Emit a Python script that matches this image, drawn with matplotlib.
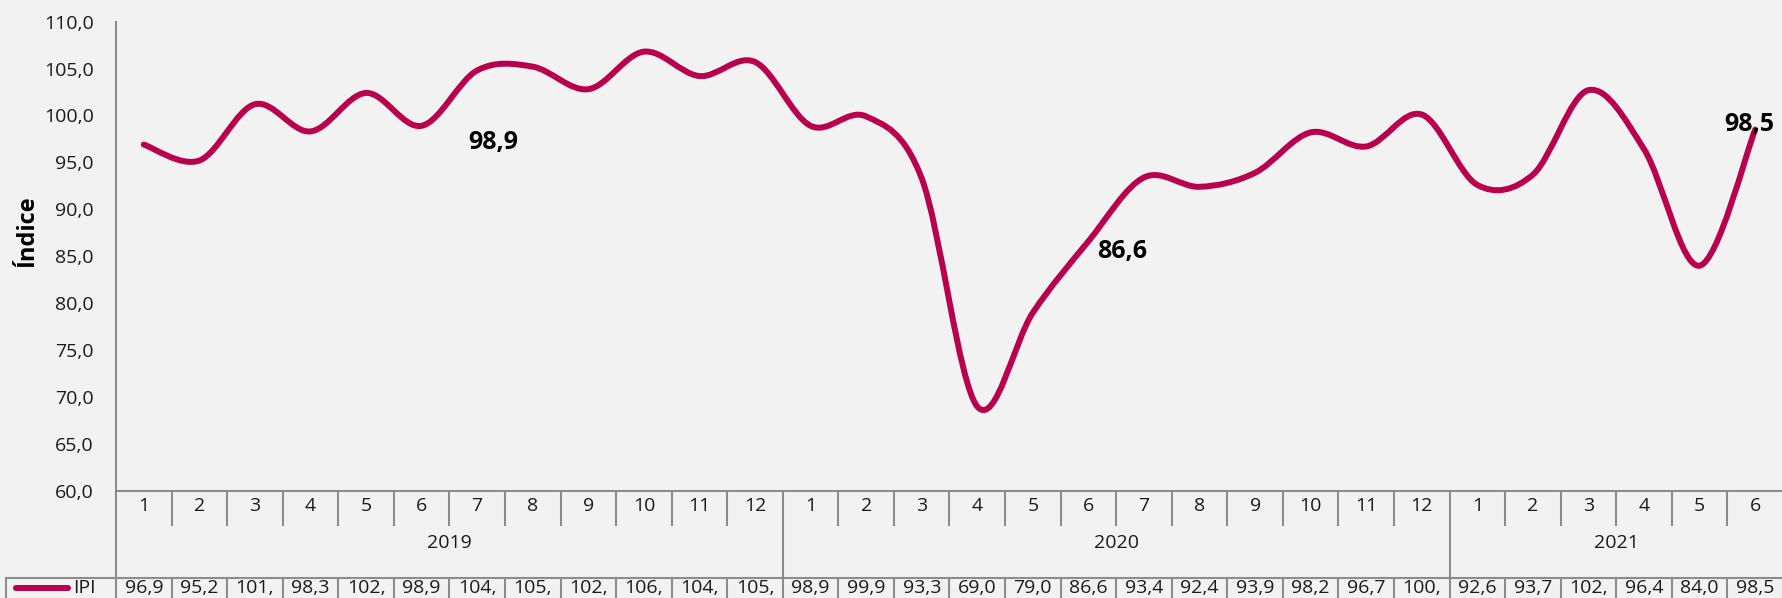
import matplotlib
matplotlib.use("Agg")
import matplotlib.pyplot as plt
from matplotlib.path import Path
from matplotlib.patches import PathPatch
from matplotlib.lines import Line2D

plt.rcParams['font.family'] = ['Open Sans', 'DejaVu Sans']

# ---------------- data ----------------
years = ["2019", "2020", "2021"]
months_per_year = [12, 12, 6]
month_labels = [str(m) for m in range(1, 13)] + [str(m) for m in range(1, 13)] + [str(m) for m in range(1, 7)]
ipi_2019 = [96.9, 95.2, 101.2, 98.3, 102.4, 98.9, 104.8, 105.2, 102.8, 106.8, 104.2, 105.7]
ipi_2020 = [98.9, 99.9, 93.3, 69.0, 79.0, 86.6, 93.4, 92.4, 93.9, 98.2, 96.7, 100.1]
ipi_2021 = [92.6, 93.7, 102.7, 96.4, 84.0, 98.5]
ipi = ipi_2019 + ipi_2020 + ipi_2021
series_name = "IPI"
y_title = "Índice"
labelled_idx = [5, 17, 29]          # points carrying a data label
label_offsets = [(72, -17), (34, -10), (-6, 5)]  # pixel offsets of labels
yticks = [60, 65, 70, 75, 80, 85, 90, 95, 100, 105, 110]

# ---------------- style ----------------
W, H = 1783, 598
BG = "#F2F2F2"
LINE_C = "#B9004C"
GRID_C = "#8C8C8C"
TXT_C = "#1A1A1A"

fig = plt.figure(figsize=(W / 100, H / 100), dpi=100, facecolor=BG)

ax_left, ax_right = 116, W
ax_top, ax_bot = 21.6, 491
ax = fig.add_axes([ax_left / W, 1 - ax_bot / H, (ax_right - ax_left) / W, (ax_bot - ax_top) / H])
ax.set_facecolor(BG)

n = len(ipi)
xs = [i + 0.5 for i in range(n)]

# smoothed line (Catmull-Rom Bezier through every point, like Excel's smoothed line)
verts = [(xs[0], ipi[0])]
codes = [Path.MOVETO]
for i in range(n - 1):
    p0 = (xs[max(i - 1, 0)], ipi[max(i - 1, 0)])
    p1 = (xs[i], ipi[i])
    p2 = (xs[i + 1], ipi[i + 1])
    p3 = (xs[min(i + 2, n - 1)], ipi[min(i + 2, n - 1)])
    c1 = (p1[0] + (p2[0] - p0[0]) / 6, p1[1] + (p2[1] - p0[1]) / 6)
    c2 = (p2[0] - (p3[0] - p1[0]) / 6, p2[1] - (p3[1] - p1[1]) / 6)
    verts += [c1, c2, p2]
    codes += [Path.CURVE4] * 3
ax.add_patch(PathPatch(Path(verts, codes), facecolor="none", edgecolor=LINE_C,
                       lw=4.3, capstyle="round", joinstyle="round", zorder=3))

ax.set_xlim(0, n)
ax.set_ylim(60, 110)
ax.set_yticks(yticks)
ax.set_yticklabels([f"{v:.1f}".replace(".", ",") for v in yticks], fontsize=14, color=TXT_C)
ax.tick_params(axis="y", length=0, pad=16)
ax.set_xticks([])
for s in ["top", "right", "left"]:
    ax.spines[s].set_visible(False)
ax.spines["bottom"].set_color(GRID_C)
ax.spines["bottom"].set_linewidth(1.5)

fig.text(27 / W, 1 - 231.5 / H, y_title, rotation=90, ha="center", va="center",
         fontsize=17, fontweight="bold", color="black")

# data labels
for idx, (dx, dy) in zip(labelled_idx, label_offsets):
    ax.annotate(f"{ipi[idx]:.1f}".replace(".", ","), xy=(xs[idx], ipi[idx]),
                xytext=(dx, dy), textcoords="offset pixels", ha="center", va="center",
                fontsize=18, fontweight="bold", color="black", zorder=4)

# ---------------- data table below the axis ----------------
trans = ax.get_xaxis_transform()
axh = ax_bot - ax_top

def fy(Y):
    return (ax_bot - Y) / axh

def vline(x, y0, y1):
    ax.add_line(Line2D([x, x], [fy(y0), fy(y1)], transform=trans, color=GRID_C,
                       lw=1.5, clip_on=False))

# y axis line continuing down through the table
vline(0, ax_top, H + 5)

# month separators and year boundaries
cum = 0
bounds = []
for m in months_per_year:
    cum += m
    bounds.append(cum)
for i in range(1, n):
    if i in bounds:
        vline(i, ax_bot, 578)
    else:
        vline(i, ax_bot, 525)

for i, lab in enumerate(month_labels):
    ax.text(xs[i], fy(506), lab, transform=trans, ha="center", va="center",
            fontsize=14, color=TXT_C, clip_on=False)

start = 0
for y, m in zip(years, months_per_year):
    ax.text(start + m / 2, fy(543.5), y, transform=trans, ha="center", va="center",
            fontsize=14, color=TXT_C, clip_on=False)
    start += m

# value row
fig.add_artist(Line2D([6 / W, 1], [1 - 578 / H, 1 - 578 / H], transform=fig.transFigure,
                      color=GRID_C, lw=1.5))
fig.add_artist(Line2D([6 / W, 6 / W], [1 - 578 / H, 0], transform=fig.transFigure,
                      color=GRID_C, lw=1.5))
for i in range(1, n + 1):
    vline(i, 578, H + 5)
for i, v in enumerate(ipi):
    ax.text(xs[i], fy(588), f"{v:.1f}".replace(".", ",")[:4], transform=trans,
            ha="center", va="center", fontsize=14, color=TXT_C, clip_on=False)

# legend key in table
fig.add_artist(Line2D([16 / W, 68 / W], [1 - 588 / H, 1 - 588 / H], transform=fig.transFigure,
                      color=LINE_C, lw=4.3, solid_capstyle="round"))
fig.text(73 / W, 1 - 588 / H, series_name, ha="left", va="center", fontsize=14, color=TXT_C)

fig.savefig("out.png", dpi=100, facecolor=BG)
